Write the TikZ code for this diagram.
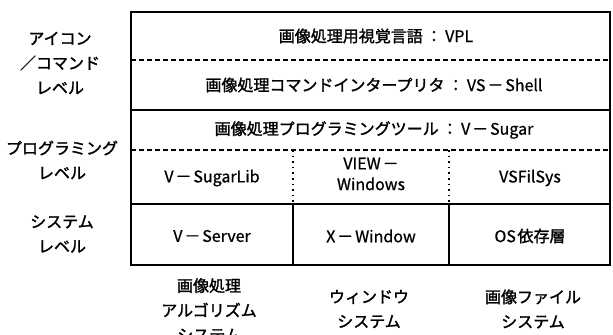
\documentclass[tikz,border=0pt]{standalone}
\usepackage{fontspec}
\setmainfont{Noto Sans CJK JP}
\newfontfamily\medfont[FakeBold=1.6]{Noto Sans CJK JP}
\newfontfamily\latmed[FakeBold=0.8]{Noto Sans CJK JP}
\newcommand{\jb}[1]{{\medfont #1}}
\newcommand{\dsh}{\hspace{0.12em}－\hspace{0.12em}}
\begin{document}
\begin{tikzpicture}[x=0.75pt,y=-0.75pt,
  txt/.style={font=\fontsize{12}{18.5}\selectfont\latmed, align=center, inner sep=0pt},
  frame/.style={line width=1.5pt},
  solidline/.style={line width=1.4pt},
  dashline/.style={line width=1.1pt, dash pattern=on 3.6pt off 2.4pt},
  dotline/.style={line width=1.5pt, dash pattern=on 1.2pt off 3pt}]
\useasboundingbox (0,0) rectangle (613,335);
% coordinates of the frame
\coordinate (tl) at (131,12);
\coordinate (br) at (610,265);
\coordinate (l1) at (131,60);  \coordinate (r1) at (610,60);
\coordinate (l2) at (131,110); \coordinate (r2) at (610,110);
\coordinate (l3) at (131,150); \coordinate (r3) at (610,150);
\coordinate (l4) at (131,204); \coordinate (r4) at (610,204);
\coordinate (a3) at (293,150); \coordinate (a4) at (293,204); \coordinate (a5) at (293,265);
\coordinate (b3) at (449,150); \coordinate (b4) at (449,204); \coordinate (b5) at (449,265);
\draw[frame] (tl) rectangle (br);
\draw[dashline] (l1) -- (r1);
\draw[solidline] (l2) -- (r2);
\draw[dashline] (l3) -- (r3);
\draw[solidline] (l4) -- (r4);
\draw[dotline] (a3) -- (a4);
\draw[dotline] (b3) -- (b4);
\draw[solidline] (a4) -- (a5);
\draw[solidline] (b4) -- (b5);
% texts inside
\node[txt] (vpl) at (376,36) {\jb{画像処理用視覚言語}\hspace{0.2em}：\hspace{0.2em}VPL};
\node[txt] (shell) at (374,85) {\jb{画像処理コマンドインタープリタ}\hspace{0.2em}：\hspace{0.2em}VS\dsh Shell};
\node[txt] (sugar) at (374,130) {\jb{画像処理プログラミングツール}\hspace{0.2em}：\hspace{0.2em}V\dsh Sugar};
\node[txt] (lib) at (212,178) {V\dsh SugarLib};
\node[txt, font=\fontsize{12}{15.5}\selectfont\latmed] (view) at (371,174) {VIEW\dsh\\Windows};
\node[txt] (fil) at (530,178) {VSFilSys};
\node[txt] (server) at (212,236) {V\dsh Server};
\node[txt] (xwin) at (371,236) {X\dsh Window};
\node[txt] (os) at (530,236) {OS\hspace{0.1em}\jb{依存層}};
% left labels
\node[txt] (icon) at (60,63) {\jb{アイコン}\\\jb{／コマンド}\\\jb{レベル}};
\node[txt] (prog) at (62,160) {\jb{プログラミング}\\\jb{レベル}};
\node[txt] (sys) at (62,234) {\jb{システム}\\\jb{レベル}};
% bottom labels
\node[txt, anchor=north] (alg) at (209,278) {\jb{画像処理}\\\jb{アルゴリズム}\\\jb{システム}};
\node[txt] (win) at (369,309) {\jb{ウィンドウ}\\\jb{システム}};
\node[txt] (file) at (533,309) {\jb{画像ファイル}\\\jb{システム}};
\end{tikzpicture}
\end{document}
